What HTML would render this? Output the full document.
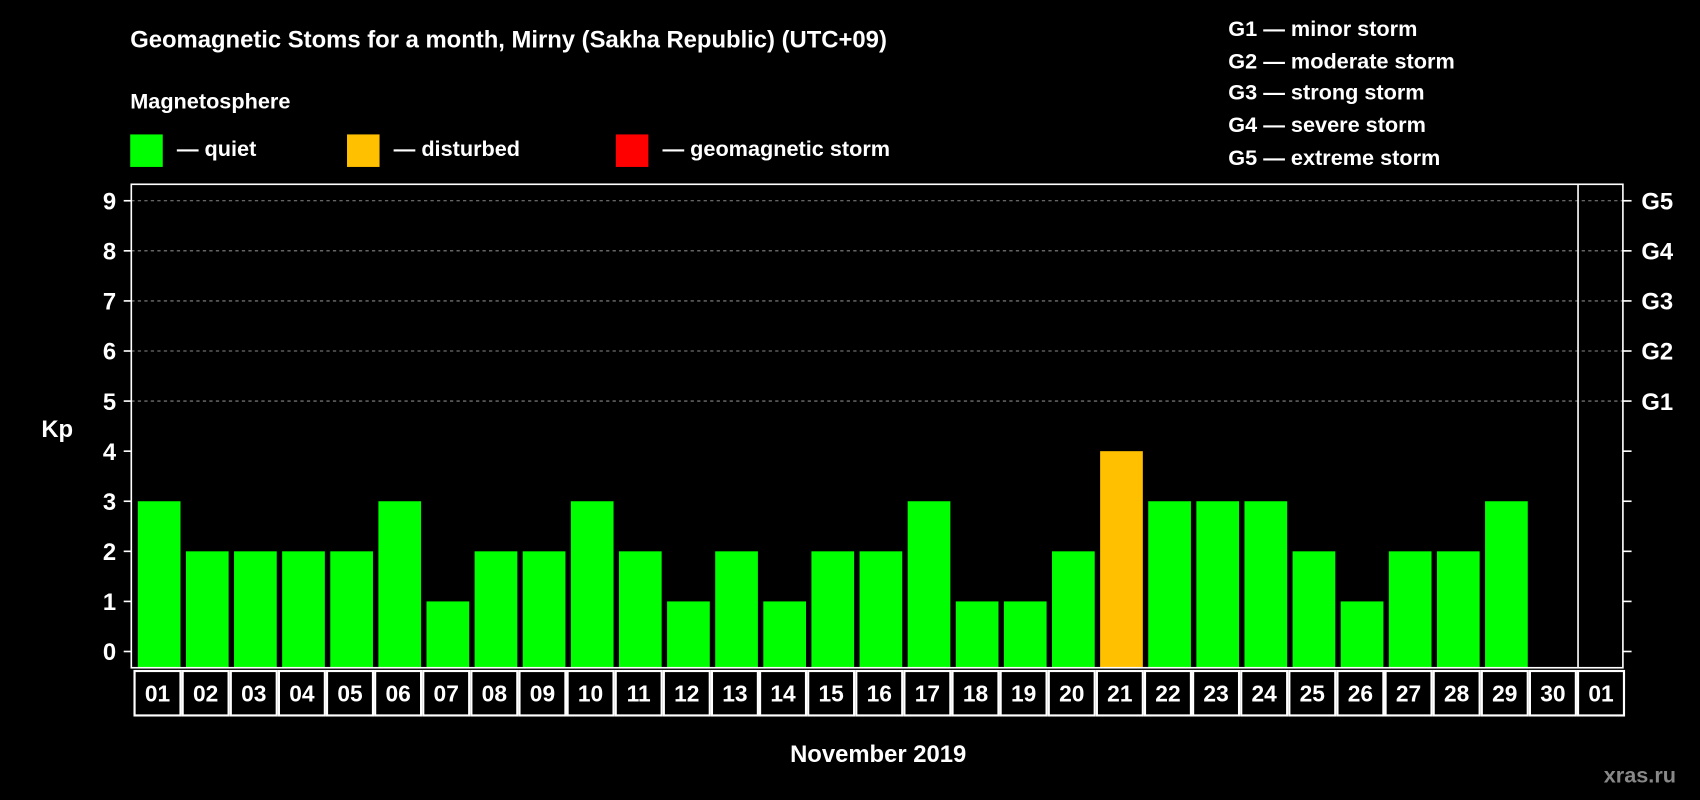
<!DOCTYPE html>
<html><head><meta charset="utf-8"><style>
html,body{margin:0;padding:0;background:#000;}
svg{display:block;font-family:"Liberation Sans",Arial,sans-serif;font-weight:bold;}
</style></head><body>
<svg id="chart" width="1700" height="800" viewBox="0 0 1568 738" xmlns="http://www.w3.org/2000/svg">
<rect x="0" y="0" width="1568" height="738" fill="#000"/>
<text x="120" y="44" fill="#fff" font-size="22">Geomagnetic Stoms for a month, Mirny (Sakha Republic) (UTC+09)</text>
<text x="120" y="100" fill="#fff" font-size="20">Magnetosphere</text>
<g><rect x="120" y="124" width="30" height="30" fill="#00ff00"/><text x="163" y="144" fill="#fff" font-size="20">— quiet</text></g>
<g><rect x="320" y="124" width="30" height="30" fill="#ffc000"/><text x="363" y="144" fill="#fff" font-size="20">— disturbed</text></g>
<g><rect x="568" y="124" width="30" height="30" fill="#ff0000"/><text x="611" y="144" fill="#fff" font-size="20">— geomagnetic storm</text></g>
<g fill="#fff" font-size="20">
<text x="1133" y="33">G1 — minor storm</text>
<text x="1133" y="63">G2 — moderate storm</text>
<text x="1133" y="92">G3 — strong storm</text>
<text x="1133" y="122">G4 — severe storm</text>
<text x="1133" y="152">G5 — extreme storm</text>
</g>
<text x="38" y="403" fill="#fff" font-size="22">Kp</text>
<text x="810" y="703" fill="#fff" font-size="22" text-anchor="middle">November 2019</text>
<text x="1546" y="722" fill="#888" font-size="20" text-anchor="end">xras.ru</text>
<g id="plot"></g>
</svg>
<script>
const days=["01","02","03","04","05","06","07","08","09","10","11","12","13","14","15","16","17","18","19","20","21","22","23","24","25","26","27","28","29","30","01"];
const kpValues=[3,2,2,2,2,3,1,2,2,3,2,1,2,1,2,2,3,1,1,2,4,3,3,3,2,1,2,2,3,null,null];
const yTicks=[0,1,2,3,4,5,6,7,8,9];
const gLabels=["G1","G2","G3","G4","G5"];
const L=121,R=1497,T=170,B=616,slot=(R-L)/days.length;
const y=v=>601-v*46.2;
const x=i=>L+i*slot;
const NS="http://www.w3.org/2000/svg";
const g=document.getElementById('plot');
function mk(t,a){const e=document.createElementNS(NS,t);for(const k in a)e.setAttribute(k,a[k]);g.appendChild(e);return e;}
yTicks.forEach(v=>{
 if(v>=5){const l=mk('line',{x1:L,x2:R,y1:y(v),y2:y(v),stroke:'#888','stroke-dasharray':'3,3','stroke-width':1});
 
 }
 const t1=mk('line',{x1:L-7,x2:L,y1:y(v),y2:y(v),stroke:'#fff','stroke-width':1.5});
 
 
 const t2=mk('line',{x1:R,x2:R+8,y1:y(v),y2:y(v),stroke:'#fff','stroke-width':1.5});
 
 
 const tx=mk('text',{x:L-14,y:y(v)+8,fill:'#fff','font-size':22,'text-anchor':'end'});tx.textContent=v;
 
 
});
gLabels.forEach((s,i)=>{const tx=mk('text',{x:R+17,y:y(5+i)+8,fill:'#fff','font-size':22});tx.textContent=s;
 
 });
kpValues.forEach((v,i)=>{
 if(v!=null){const c=v>=5?'#ff0000':(v>=4?'#ffc000':'#00ff00');
 const b=mk('rect',{x:x(i)+6,y:y(v),width:slot-5,height:B-y(v),fill:c});
 
 }
 const bx=mk('rect',{x:x(i)+3,y:B+3,width:slot-2,height:41,fill:'none',stroke:'#fff','stroke-width':2});
 
 
 const tx=mk('text',{x:x(i)+slot/2+2,y:B+31,fill:'#fff','font-size':21,'text-anchor':'middle'});tx.textContent=days[i];
 
 
});
const fr=mk('rect',{x:L,y:T,width:R-L,height:B-T,fill:'none',stroke:'#fff','stroke-width':1.5});


const sep=mk('line',{x1:x(days.length-1)+3,x2:x(days.length-1)+3,y1:T,y2:B,stroke:'#fff','stroke-width':1.5});


</script>
</body></html>
